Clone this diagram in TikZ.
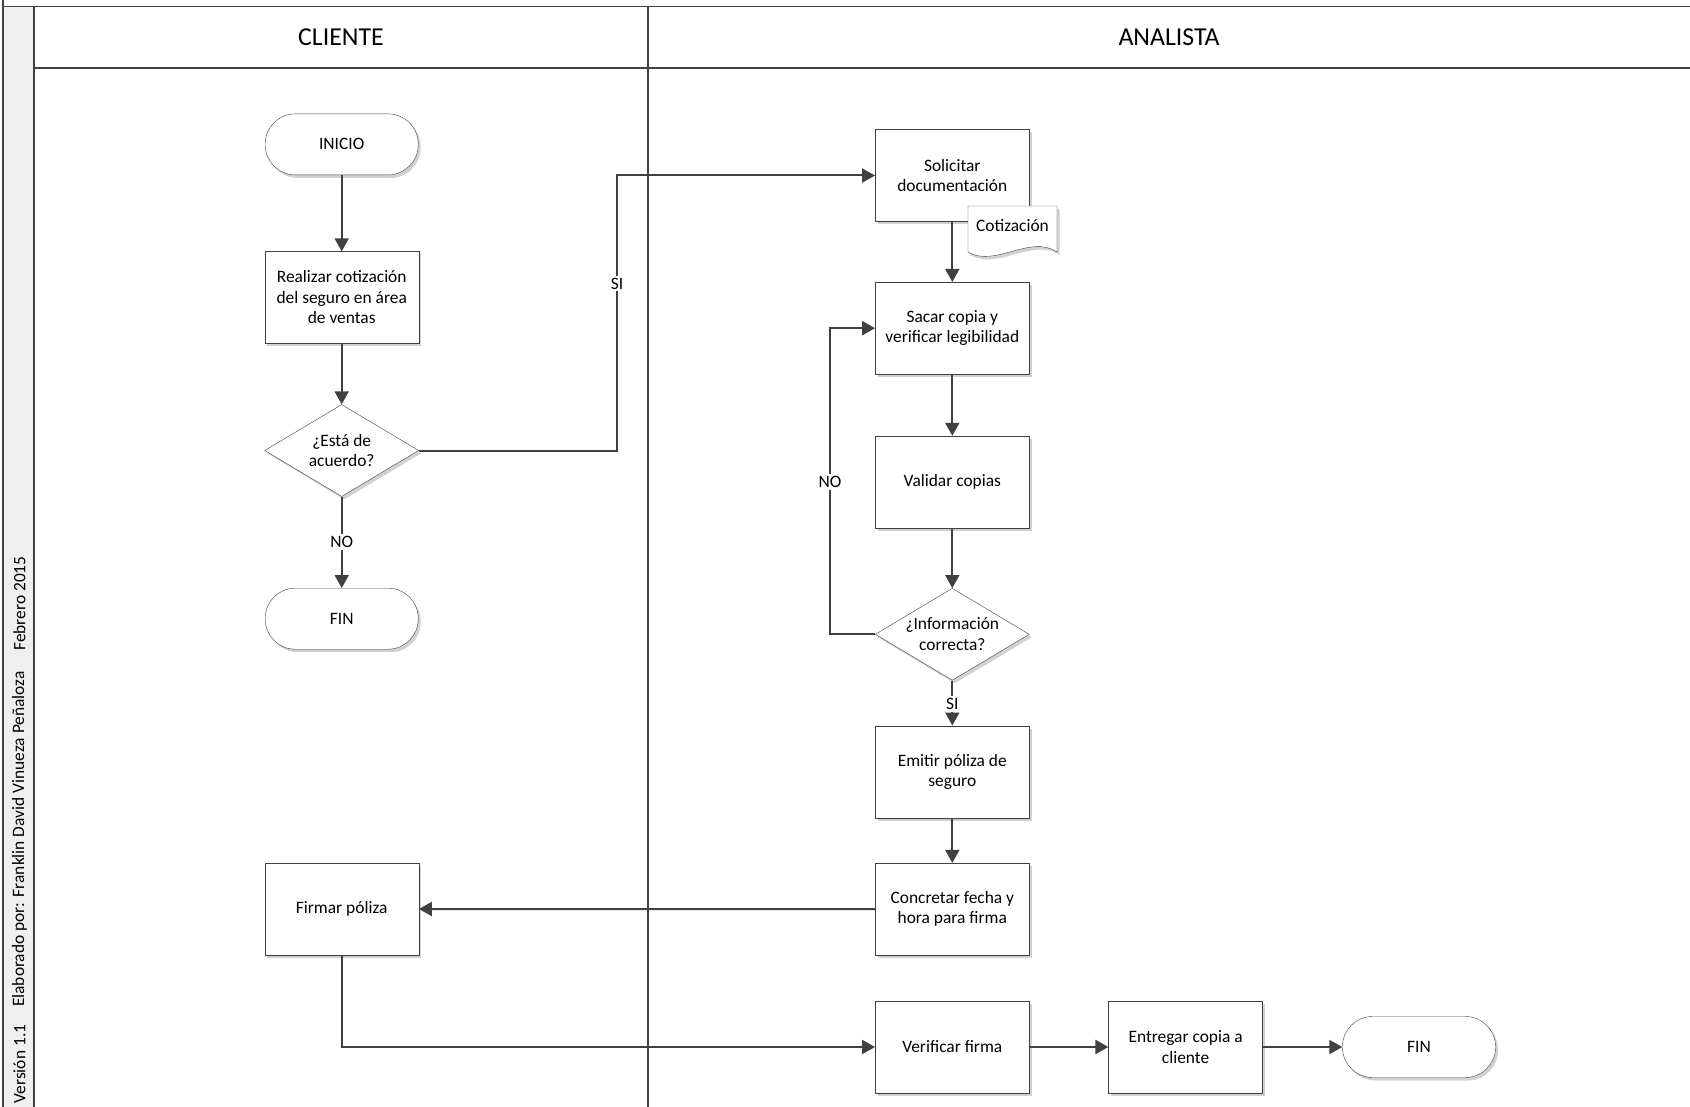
\documentclass[tikz,border=0pt]{standalone}
\usepackage{fontspec}
\setmainfont{Carlito}
\usetikzlibrary{shapes.geometric,arrows.meta,shadows}
\definecolor{linea}{HTML}{404040}
\definecolor{franja}{HTML}{EFEFEF}
\tikzset{
	sombra/.style={drop shadow={shadow xshift=2.5pt,shadow yshift=-3pt,opacity=0.18,fill=black}},
	proceso/.style={draw=linea,fill=white,sombra,minimum width=154pt,minimum height=92pt,align=center,inner sep=0pt,font=\fontsize{17.4}{20.5}\selectfont},
	terminal/.style={proceso,rounded corners=30pt,minimum width=153pt,minimum height=61pt},
	decision/.style={proceso,diamond,aspect=1.67,minimum width=154pt,minimum height=92pt},
	etiqueta/.style={fill=white,inner sep=2pt,font=\fontsize{17.4}{20.5}\selectfont},
	flecha/.style={draw=linea,line width=2pt,-{Triangle[length=13pt,width=14pt]}},
	carril/.style={draw=linea,line width=1.6pt}
}
\begin{document}
\begin{tikzpicture}[x=1pt,y=-1pt]
	\useasboundingbox (0,0) rectangle (1690,1107);
	\fill [franja](3,6) rectangle (34,1107);
	\draw [carril](3,0)--(3,1107);
	\draw [carril](3,6.5)--(1690,6.5);
	\draw [carril](34,6.5)--(34,1107);
	\draw [carril](34,68)--(1690,68);
	\draw [carril](648,6.5)--(648,1107);
	\node at (341,37.5){\fontsize{25.8}{30}\selectfont CLIENTE};
	\node at (1169,37.5){\fontsize{25.8}{30}\selectfont ANALISTA};
	\node [rotate=90,font=\fontsize{17.4}{20}\selectfont] at (19.5,1064){Versión 1.1};
	\node [rotate=90,font=\fontsize{17.4}{20}\selectfont] at (19.5,839){Elaborado por: Franklin David Vinueza Peñaloza};
	\node [rotate=90,font=\fontsize{17.4}{20}\selectfont] at (19.5,603.5){Febrero 2015};

	\node [terminal] (inicio) at (341.7,144.4){INICIO};
	\node [proceso] (realizar) at (341.7,297.5){Realizar cotización\\del seguro en área\\de ventas};
	\node [decision] (acuerdo) at (341.7,450.5){¿Está de\\acuerdo?};
	\node [terminal] (finA) at (341.7,618.7){FIN};
	\node [proceso] (firmar) at (341.7,909){Firmar póliza};

	\node [proceso] (solicitar) at (952.3,175.5){Solicitar\\documentación};
	\filldraw [draw=linea,fill=white,sombra](968,206)--(1057,206)--(1057,252) .. controls (1030,234) and (995,268) .. (968,252)--cycle;
	\node [font=\fontsize{17.4}{20.5}\selectfont] (cotizacion) at (1012.5,226){Cotización};
	\node [proceso] (sacar) at (952.3,328.2){Sacar copia y\\verificar legibilidad};
	\node [proceso] (validar) at (952.3,482){Validar copias};
	\node [decision] (info) at (952.3,634.3){¿Información\\correcta?};
	\node [proceso] (emitir) at (952.3,771.7){Emitir póliza de\\seguro};
	\node [proceso] (concretar) at (952.3,909.1){Concretar fecha y\\hora para firma};
	\node [proceso] (verificar) at (952.3,1047){Verificar firma};
	\node [proceso] (entregar) at (1185.6,1047){Entregar copia a\\cliente};
	\node [terminal] (finB) at (1419,1047){FIN};

	\coordinate (codoSI) at (617,175.5);
	\coordinate (codoNO) at (830,482);

	\draw [flecha](inicio)--(realizar);
	\draw [flecha](realizar)--(acuerdo);
	\draw [flecha](acuerdo)--(finA);
	\node [etiqueta] (no1) at (341.7,542){NO};
	\draw [flecha](acuerdo.east) -| (codoSI)--(solicitar.west);
	\node [etiqueta] (si1) at (617,283.5){SI};
	\draw [flecha](solicitar)--(sacar);
	\draw [flecha](sacar)--(validar);
	\draw [flecha](validar)--(info);
	\draw [flecha](info.west)--(info.west -| codoNO)--(sacar.west -| codoNO)--(sacar.west);
	\node [etiqueta] (no2) at (codoNO){NO};
	\draw [flecha](info)--(emitir);
	\node [etiqueta] (si2) at (952.3,703.8){SI};
	\draw [flecha](emitir)--(concretar);
	\draw [flecha](concretar)--(firmar);
	\draw [flecha](firmar.south) |- (verificar.west);
	\draw [flecha](verificar)--(entregar);
	\draw [flecha](entregar)--(finB);
\end{tikzpicture}
\end{document}
